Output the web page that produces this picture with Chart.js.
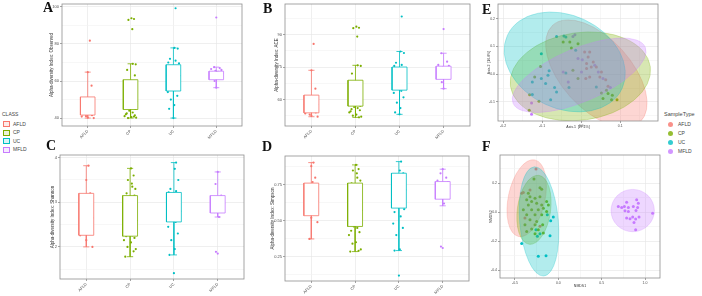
<!DOCTYPE html>
<html>
<head>
<meta charset="utf-8">
<script src="https://cdn.jsdelivr.net/npm/chart.js@4.4.1/dist/chart.umd.min.js"></script>
<style>
  body { margin: 0; background: #fff; width: 702px; height: 296px; overflow: hidden; position: relative; font-family: 'Liberation Sans', Arial, sans-serif; }
  canvas { position: absolute; }
  .tag { position: absolute; font: bold 14px 'Liberation Serif', 'Times New Roman', serif; line-height: 14px; color: #111; z-index: 2; }
  .legend { position: absolute; font-size: 5px; color: #444; line-height: 5px; }
  .legend .row { position: absolute; left: 0; white-space: nowrap; }
  .key { position: absolute; width: 5px; height: 4px; border: 0.8px solid; background: #fff; }
  .dot { position: absolute; width: 5px; height: 5px; border-radius: 50%; opacity: 0.8; }
</style>
</head>
<body>
<div class="tag" style="left:43px;top:1px">A</div>
<div class="tag" style="left:263px;top:2px">B</div>
<div class="tag" style="left:46px;top:139px">C</div>
<div class="tag" style="left:262px;top:140px">D</div>
<div class="tag" style="left:482px;top:3px">E</div>
<div class="tag" style="left:482px;top:140px">F</div>

<canvas id="chartA" width="197" height="145" style="left:49px;top:0px"></canvas>
<canvas id="chartB" width="200" height="145" style="left:274px;top:0px"></canvas>
<canvas id="chartC" width="198" height="153" style="left:50px;top:145px"></canvas>
<canvas id="chartD" width="203" height="151" style="left:270px;top:145px"></canvas>
<canvas id="chartE" width="175" height="129" style="left:487px;top:0px"></canvas>
<canvas id="chartF" width="175" height="143" style="left:489px;top:145px"></canvas>

<div class="legend" id="classLegend" style="left:2px;top:112px"></div>
<div class="legend" id="typeLegend" style="left:664px;top:112px"></div>

<script>
Chart.defaults.font.family = "'Liberation Sans', Arial, sans-serif"

const classes = ['AFLD', 'CP', 'UC', 'MFLD']
const palette = ['#F8766D', '#7CAE00', '#00BFC4', '#C77CFF']

// horizontal jitter of the sample points, per class
const jitter = [
  [0.05, 0, 0.09, 0.03, -0.06, -0.12, 0.1, -0.14, 0.0, 0.14, -0.04],
  [0.02, 0.08, -0.05, 0.04, 0.05, 0.12, -0.08, 0.1, -0.13, 0.06, -0.02, 0.09, -0.1, 0.03, 0.12, -0.06, 0.0, 0.07, -0.12, 0.11, -0.03, 0.05, -0.09, 0.1, -0.14, 0.02, -0.06, 0.13, 0.08, -0.11],
  [0.05, 0.02, 0.1, -0.08, 0.05, -0.12, 0.13, 0.0, -0.05, 0.1, -0.14, 0.07, -0.02, 0.12, -0.1, 0.04, -0.13, 0.09, -0.06, 0.02, -0.1, 0.0],
  [0.0, -0.05, 0.08, -0.12, 0.12, -0.02, 0.05, -0.1, 0.1, -0.07, 0.03, -0.04, 0.0]
]

// A - Observed
const obsLow = [40, 40, 40, 56.4]
const obsQ1 = [41.6, 44.6, 54.6, 60.7]
const obsMed = [46.4, 49.1, 62.9, 64.3]
const obsQ3 = [51.4, 60.7, 68.8, 65.3]
const obsHigh = [64.8, 69.3, 77.9, 67.5]
const obsMean = [50, 55, 61.8, 64.6]
const obsPoints = [
  [81.8, 64.8, 57.5, 47.5, 46, 42, 41.5, 40.8, 40.2, 40, 41],
  [93.9, 93.5, 93, 88, 69.3, 69, 66, 63, 60, 57.5, 55.5, 52, 50.5, 49.5, 48.5, 48, 47, 46.5, 45.5, 45, 44, 43, 42.5, 41.5, 41, 40.5, 40, 40.2, 40.8, 42],
  [99.3, 77.9, 77.5, 72, 71, 70, 69.5, 68, 66, 64.5, 63, 62, 61, 58, 56, 55, 54, 52, 50, 47, 45, 40],
  [94.3, 67.5, 67, 66.5, 66, 65.5, 65, 64.5, 64, 63, 62, 60, 56.4]
]
const obsTicks = [40, 60, 80, 100]
const obsMinor = [50, 70, 90]

// B - ACE
const aceLow = [52, 51.7, 53.1, 65]
const aceQ1 = [53.8, 56.9, 64.3, 69.3]
const aceMed = [57.7, 60, 71.2, 73.8]
const aceQ3 = [62, 68.9, 75, 75.4]
const aceHigh = [73.5, 75.8, 82.2, 81.4]
const aceMean = [60.7, 64.7, 69.9, 73.8]
const acePoints = [
  [85.7, 73.5, 65, 58.5, 57, 55, 54, 53.5, 52.5, 52, 53],
  [93.7, 93.2, 93, 89.1, 75.8, 75.5, 72, 68, 66, 63.5, 62, 61, 60.5, 60, 59.5, 59, 58.5, 58, 57.5, 57, 56.5, 56, 55.5, 55, 54, 53, 52.5, 52, 51.7, 54.5],
  [98.4, 82.2, 81.5, 77, 76, 75.5, 74.5, 73, 72, 71.5, 70.5, 69, 67.5, 66, 65, 64, 63, 61, 58.5, 56, 54, 53.1],
  [92.6, 81.4, 77.5, 76, 75.5, 75, 74.5, 74, 73.5, 72, 70, 68, 65]
]
const aceTicks = [60, 75, 90]
const aceMinor = [52.5, 67.5, 82.5, 97.5]

// C - Shannon
const shaLow = [2.0, 1.78, 1.82, 2.67]
const shaQ1 = [2.26, 2.24, 2.56, 2.76]
const shaMed = [2.65, 2.59, 2.8, 2.98]
const shaQ3 = [3.2, 3.15, 3.22, 3.15]
const shaHigh = [3.82, 3.76, 3.89, 3.68]
const shaMean = [2.74, 2.69, 2.84, 2.89]
const shaPoints = [
  [3.82, 3.5, 3.2, 2.76, 2.72, 2.41, 2.3, 2.26, 2.15, 2.0, 2.6],
  [3.76, 3.6, 3.5, 3.42, 3.35, 3.3, 3.2, 3.15, 3.1, 3.0, 2.9, 2.8, 2.72, 2.65, 2.6, 2.58, 2.5, 2.45, 2.4, 2.35, 2.3, 2.26, 2.24, 2.2, 2.15, 2.1, 2.0, 1.95, 1.9, 1.78],
  [3.89, 3.75, 3.5, 3.3, 3.25, 3.22, 3.1, 3.0, 2.9, 2.85, 2.82, 2.8, 2.78, 2.7, 2.6, 2.56, 2.45, 2.3, 2.15, 1.95, 1.82, 1.41],
  [3.68, 3.41, 3.15, 3.1, 3.05, 3.0, 2.98, 2.95, 2.85, 2.78, 2.67, 1.89, 1.85]
]
const shaTicks = [2, 3, 4]
const shaMinor = [1.5, 2.5, 3.5]

// D - Simpson
const simLow = [0.373, 0.285, 0.292, 0.604]
const simQ1 = [0.535, 0.46, 0.588, 0.65]
const simMed = [0.637, 0.572, 0.715, 0.743]
const simQ3 = [0.762, 0.762, 0.831, 0.773]
const simHigh = [0.905, 0.889, 0.912, 0.859]
const simMean = [0.646, 0.604, 0.669, 0.692]
const simPoints = [
  [0.905, 0.88, 0.80, 0.77, 0.70, 0.62, 0.56, 0.55, 0.52, 0.49, 0.373],
  [0.889, 0.86, 0.85, 0.83, 0.8, 0.78, 0.76, 0.72, 0.7, 0.67, 0.64, 0.6, 0.57, 0.55, 0.53, 0.52, 0.5, 0.49, 0.48, 0.47, 0.46, 0.45, 0.43, 0.42, 0.4, 0.35, 0.34, 0.3, 0.29, 0.285],
  [0.912, 0.85, 0.83, 0.82, 0.8, 0.78, 0.74, 0.72, 0.7, 0.68, 0.66, 0.62, 0.6, 0.58, 0.56, 0.53, 0.48, 0.45, 0.4, 0.3, 0.292, 0.118],
  [0.859, 0.83, 0.8, 0.78, 0.77, 0.76, 0.75, 0.74, 0.72, 0.68, 0.62, 0.32, 0.31]
]
const simTicks = [0.25, 0.5, 0.75]
const simMinor = [0.125, 0.375, 0.625, 0.875]

// E - PCoA
const pcoaX = [
  [0.009, 0.022, 0.014, 0.031, 0.039, 0.026, 0.052, 0.048, 0.063, 0.069, 0.012, 0.014, 0.022, 0.018],
  [-0.046, -0.029, -0.008, -0.025, -0.104, -0.119, -0.132, -0.108, -0.133, -0.021, -0.008, 0.065, 0.080, 0.069, 0.052, 0.056, 0.092, 0.078],
  [-0.063, -0.044, -0.039, -0.102, -0.014, -0.125, -0.102, -0.085, -0.082, -0.091, -0.068, -0.063, -0.078, -0.125, -0.039, -0.031, 0.039],
  [-0.021, -0.016, -0.008, 0.003, 0.035, 0.044, 0.056, 0.075, -0.127, -0.127, -0.046, -0.033, 0.001]
]
const pcoaY = [
  [0.080, 0.080, 0.038, 0.044, 0.026, 0.026, 0.008, -0.010, -0.020, -0.044, -0.016, 0.020, -0.010, 0.062],
  [0.116, 0.116, 0.110, 0.094, 0.028, -0.010, -0.074, -0.098, -0.130, 0.014, -0.016, -0.058, -0.076, -0.070, -0.068, -0.088, -0.092, -0.092],
  [0.136, 0.138, 0.134, 0.074, 0.086, -0.028, -0.016, -0.004, 0.012, -0.034, -0.048, -0.064, -0.092, -0.073, 0.004, -0.048, -0.046],
  [0.136, 0.142, 0.056, 0.052, 0.032, 0.008, -0.016, -0.048, -0.104, -0.145, 0.008, -0.028, 0.008]
]
const pcoaEllCx = [0.039, -0.002, -0.042, -0.005]
const pcoaEllCy = [0.002, -0.008, 0.044, -0.004]
const pcoaEllA = [0.167, 0.181, 0.162, 0.184]
const pcoaEllB = [0.126, 0.158, 0.168, 0.096]
const pcoaEllAngle = [48, -8, 25, -23]
const pcoaXTicks = [-0.2, -0.1, 0.0, 0.1]
const pcoaXMinor = [-0.15, -0.05, 0.05, 0.15]
const pcoaYTicks = [-0.1, 0.0, 0.1, 0.2]
const pcoaYMinor = [-0.15, -0.05, 0.05, 0.15, 0.25]

// F - NMDS
const nmdsX = [
  [-0.423, -0.404, -0.327, -0.258, -0.385, -0.212],
  [-0.281, -0.212, -0.192, -0.346, -0.327, -0.269, -0.212, -0.135, -0.115, -0.365, -0.308, -0.25, -0.192, -0.346, -0.404, -0.308, -0.231, -0.173, -0.135, -0.365, -0.269, -0.192, -0.327, -0.25, -0.385, -0.269, -0.181, -0.308, -0.231, -0.365, -0.269, -0.173],
  [-0.423, -0.231, -0.142, -0.058, -0.088, -0.096, -0.212, -0.242, -0.258, -0.127],
  [0.692, 0.731, 0.762, 0.788, 0.808, 0.865, 0.904, 0.923, 0.915, 0.896, 0.788, 0.827, 0.858, 0.892, 0.931, 0.873, 0.892, 1.088, 0.769, 0.808]
]
const nmdsY = [
  [0.131, 0.136, 0.154, 0.298, -0.040, -0.097],
  [0.230, 0.170, 0.159, 0.131, 0.108, 0.097, 0.108, 0.074, 0.051, 0.086, 0.074, 0.063, 0.051, 0.051, 0.017, 0.017, 0.017, 0.028, 0.005, -0.017, -0.017, -0.017, -0.052, -0.063, -0.086, -0.086, -0.086, -0.116, -0.120, -0.132, -0.148, -0.143],
  [-0.216, -0.303, -0.299, -0.033, -0.059, -0.162, -0.148, -0.166, -0.120, -0.017],
  [0.040, 0.033, 0.040, 0.070, 0.033, 0.040, 0.086, 0.063, 0.033, 0.012, -0.040, -0.045, -0.033, -0.047, -0.033, -0.070, -0.120, -0.006, 0.010, 0.005]
]
const nmdsEllCx = [-0.365, -0.281, -0.223, 0.858]
const nmdsEllCy = [0.097, 0.017, -0.063, 0.012]
const nmdsEllA = [0.212, 0.192, 0.223, 0.25]
const nmdsEllB = [0.27, 0.24, 0.378, 0.146]
const nmdsEllAngle = [12, 8, -5, 0]
const nmdsXTicks = [-0.5, 0.0, 0.5, 1.0]
const nmdsXMinor = [-0.25, 0.25, 0.75]
const nmdsYTicks = [-0.4, -0.2, 0.0, 0.2]
const nmdsYMinor = [-0.3, -0.1, 0.1, 0.3]

const BOX_HALF = 0.17
const CAP_HALF = 0.07

function hexA(hex, a) {
  const n = parseInt(hex.slice(1), 16)
  return `rgba(${n >> 16},${(n >> 8) & 255},${n & 255},${a})`
}

const framePlugin = {
  id: 'frame',
  afterDraw(chart) {
    const { ctx, chartArea: a } = chart
    ctx.save()
    ctx.strokeStyle = '#8f8f8f'
    ctx.lineWidth = 0.8
    ctx.strokeRect(a.left, a.top, a.right - a.left, a.bottom - a.top)
    ctx.restore()
  }
}

const ellipsePlugin = {
  id: 'ellipses',
  afterDatasetsDraw(chart, args, opts) {
    if (!opts.cx) return
    const { ctx, chartArea: a, scales: { x, y } } = chart
    ctx.save()
    ctx.beginPath()
    ctx.rect(a.left, a.top, a.right - a.left, a.bottom - a.top)
    ctx.clip()
    opts.cx.forEach((cx, i) => {
      const px = x.getPixelForValue(cx)
      const py = y.getPixelForValue(opts.cy[i])
      const rx = Math.abs(x.getPixelForValue(cx + opts.a[i]) - px)
      const ry = Math.abs(y.getPixelForValue(opts.cy[i] + opts.b[i]) - py)
      ctx.beginPath()
      ctx.ellipse(px, py, rx, ry, opts.angle[i] * Math.PI / 180, 0, Math.PI * 2)
      ctx.fillStyle = hexA(palette[i], opts.alpha)
      ctx.fill()
      ctx.strokeStyle = hexA(palette[i], 0.5)
      ctx.lineWidth = 0.5
      ctx.stroke()
    })
    ctx.restore()
  }
}

function axis(range, ticks, labels, minor, opts) {
  const isMajor = v => ticks.includes(v)
  return {
    type: 'linear',
    position: opts.position,
    min: range[0],
    max: range[1],
    afterBuildTicks: s => { s.ticks = ticks.concat(minor).map(v => ({ value: v })) },
    afterFit: s => {
      if (opts.position === 'left') s.width = opts.size
      else s.height = opts.size
    },
    ticks: {
      autoSkip: false,
      callback: v => isMajor(v) ? labels[ticks.indexOf(v)] : '',
      font: { size: opts.font || 4 },
      color: '#4d4d4d',
      padding: 1,
      minRotation: opts.rotate || 0,
      maxRotation: opts.rotate || 0
    },
    grid: {
      color: c => c.tick && isMajor(c.tick.value) ? '#e4e4e4' : '#f2f2f2',
      tickColor: c => c.tick && isMajor(c.tick.value) ? '#666' : 'rgba(0,0,0,0)',
      tickLength: 2,
      lineWidth: 0.6
    },
    border: { display: false },
    title: {
      display: !!opts.title,
      text: opts.title,
      font: { size: opts.titleSize || 4.5 },
      color: '#333',
      padding: 0
    }
  }
}

function boxChart(id, low, q1, med, q3, high, mean, points, range, ticks, minor, title, yWidth, xHeight, padTop) {
  const datasets = []
  const line = (pts, col, extra) => datasets.push(Object.assign({
    data: pts, showLine: true, borderColor: col, borderWidth: 0.8,
    pointRadius: 0, pointHoverRadius: 0, fill: false
  }, extra || {}))

  classes.forEach((name, i) => {
    const x = i + 1
    const col = palette[i]
    line([{ x, y: q3[i] }, { x, y: high[i] }], col)
    line([{ x, y: q1[i] }, { x, y: low[i] }], col)
    line([{ x: x - CAP_HALF, y: high[i] }, { x: x + CAP_HALF, y: high[i] }], col)
    line([{ x: x - CAP_HALF, y: low[i] }, { x: x + CAP_HALF, y: low[i] }], col)
    line([
      { x: x - BOX_HALF, y: q1[i] }, { x: x + BOX_HALF, y: q1[i] },
      { x: x + BOX_HALF, y: q3[i] }, { x: x - BOX_HALF, y: q3[i] },
      { x: x - BOX_HALF, y: q1[i] }
    ], col, { fill: 'shape', backgroundColor: '#ffffff' })
    line([{ x: x - BOX_HALF, y: med[i] }, { x: x + BOX_HALF, y: med[i] }], col, { borderWidth: 1 })
  })

  classes.forEach((name, i) => {
    datasets.push({
      data: points[i].map((v, k) => ({ x: i + 1 + jitter[i][k], y: v })),
      pointRadius: 1.1,
      pointBorderWidth: 0,
      backgroundColor: palette[i],
      showLine: false
    })
  })

  datasets.push({
    data: mean.map((m, i) => ({ x: i + 1, y: m })),
    pointRadius: 1.7,
    pointBorderWidth: 0,
    backgroundColor: '#000',
    showLine: false
  })

  const yLabels = ticks.map(t => id === 'chartD' ? t.toFixed(2) : String(t))

  new Chart(document.getElementById(id), {
    type: 'scatter',
    data: { datasets },
    options: {
      responsive: false,
      animation: false,
      devicePixelRatio: 1,
      layout: { padding: { top: padTop, right: 4, left: 0, bottom: 0 } },
      plugins: { legend: { display: false }, tooltip: { enabled: false } },
      scales: {
        x: axis([0.4, 4.6], [1, 2, 3, 4], classes, [], { position: 'bottom', size: xHeight, rotate: 45 }),
        y: axis(range, ticks, yLabels, minor, { position: 'left', size: yWidth, title })
      }
    },
    plugins: [framePlugin]
  })
}

boxChart('chartA', obsLow, obsQ1, obsMed, obsQ3, obsHigh, obsMean, obsPoints,
  [35.7, 101.6], obsTicks, obsMinor, 'Alpha-diversity Index: Observed', 13, 19, 3)
boxChart('chartB', aceLow, aceQ1, aceMed, aceQ3, aceHigh, aceMean, acePoints,
  [47.7, 104.2], aceTicks, aceMinor, 'Alpha-diversity Index: ACE', 11, 19, 3)
boxChart('chartC', shaLow, shaQ1, shaMed, shaQ3, shaHigh, shaMean, shaPoints,
  [1.28, 4.06], shaTicks, shaMinor, 'Alpha-diversity Index: Shannon', 10, 19, 10)
boxChart('chartD', simLow, simQ1, simMed, simQ3, simHigh, simMean, simPoints,
  [0.08, 0.951], simTicks, simMinor, 'Alpha-diversity Index: Simpson', 15, 15, 11)

function ordChart(id, xs, ys, xRange, yRange, xTicks, xMinor, yTicks, yMinor, xTitle, yTitle, ell, yWidth, xHeight, padTop) {
  const datasets = classes.map((name, i) => ({
    label: name,
    data: xs[i].map((v, k) => ({ x: v, y: ys[i][k] })),
    pointRadius: 1.5,
    pointBorderWidth: 0,
    backgroundColor: palette[i]
  }))
  const fmt = v => v.toFixed(1)
  new Chart(document.getElementById(id), {
    type: 'scatter',
    data: { datasets },
    options: {
      responsive: false,
      animation: false,
      devicePixelRatio: 1,
      layout: { padding: { top: padTop, right: 4, left: 0, bottom: 0 } },
      plugins: { legend: { display: false }, tooltip: { enabled: false }, ellipses: ell },
      scales: {
        x: axis(xRange, xTicks, xTicks.map(fmt), xMinor, { position: 'bottom', size: xHeight, title: xTitle, font: 3.5, titleSize: 3.5 }),
        y: axis(yRange, yTicks, yTicks.map(fmt), yMinor, { position: 'left', size: yWidth, title: yTitle, font: 3.5, titleSize: 3.5 })
      }
    },
    plugins: [ellipsePlugin, framePlugin]
  })
}

ordChart('chartE', pcoaX, pcoaY, [-0.213, 0.197], [-0.169, 0.253],
  pcoaXTicks, pcoaXMinor, pcoaYTicks, pcoaYMinor, 'Axis.1  [27.1%]', 'Axis.2  [16.8%]',
  { cx: pcoaEllCx, cy: pcoaEllCy, a: pcoaEllA, b: pcoaEllB, angle: pcoaEllAngle, alpha: 0.3 }, 11, 8, 3)
ordChart('chartF', nmdsX, nmdsY, [-0.673, 1.173], [-0.453, 0.395],
  nmdsXTicks, nmdsXMinor, nmdsYTicks, nmdsYMinor, 'NMDS1', 'NMDS2',
  { cx: nmdsEllCx, cy: nmdsEllCy, a: nmdsEllA, b: nmdsEllB, angle: nmdsEllAngle, alpha: 0.3 }, 11, 10, 10)

// legends
const classLegend = document.getElementById('classLegend')
const typeLegend = document.getElementById('typeLegend')
classLegend.innerHTML = '<div class="row" style="top:0">CLASS</div>' + classes.map((c, i) =>
  `<div class="row" style="top:${9.5 + i * 8.6}px"><span class="key" style="left:1px;top:-0.5px;border-color:${palette[i]};background:${hexA(palette[i], 0.15)}"></span><span style="position:absolute;left:11px">${c}</span></div>`).join('')
typeLegend.innerHTML = '<div class="row" style="top:0;font-size:5.5px">SampleType</div>' + classes.map((c, i) =>
  `<div class="row" style="top:${10 + i * 9}px"><span class="dot" style="left:4px;top:-0.5px;background:${palette[i]}"></span><span style="position:absolute;left:14px">${c}</span></div>`).join('')
</script>
</body>
</html>
